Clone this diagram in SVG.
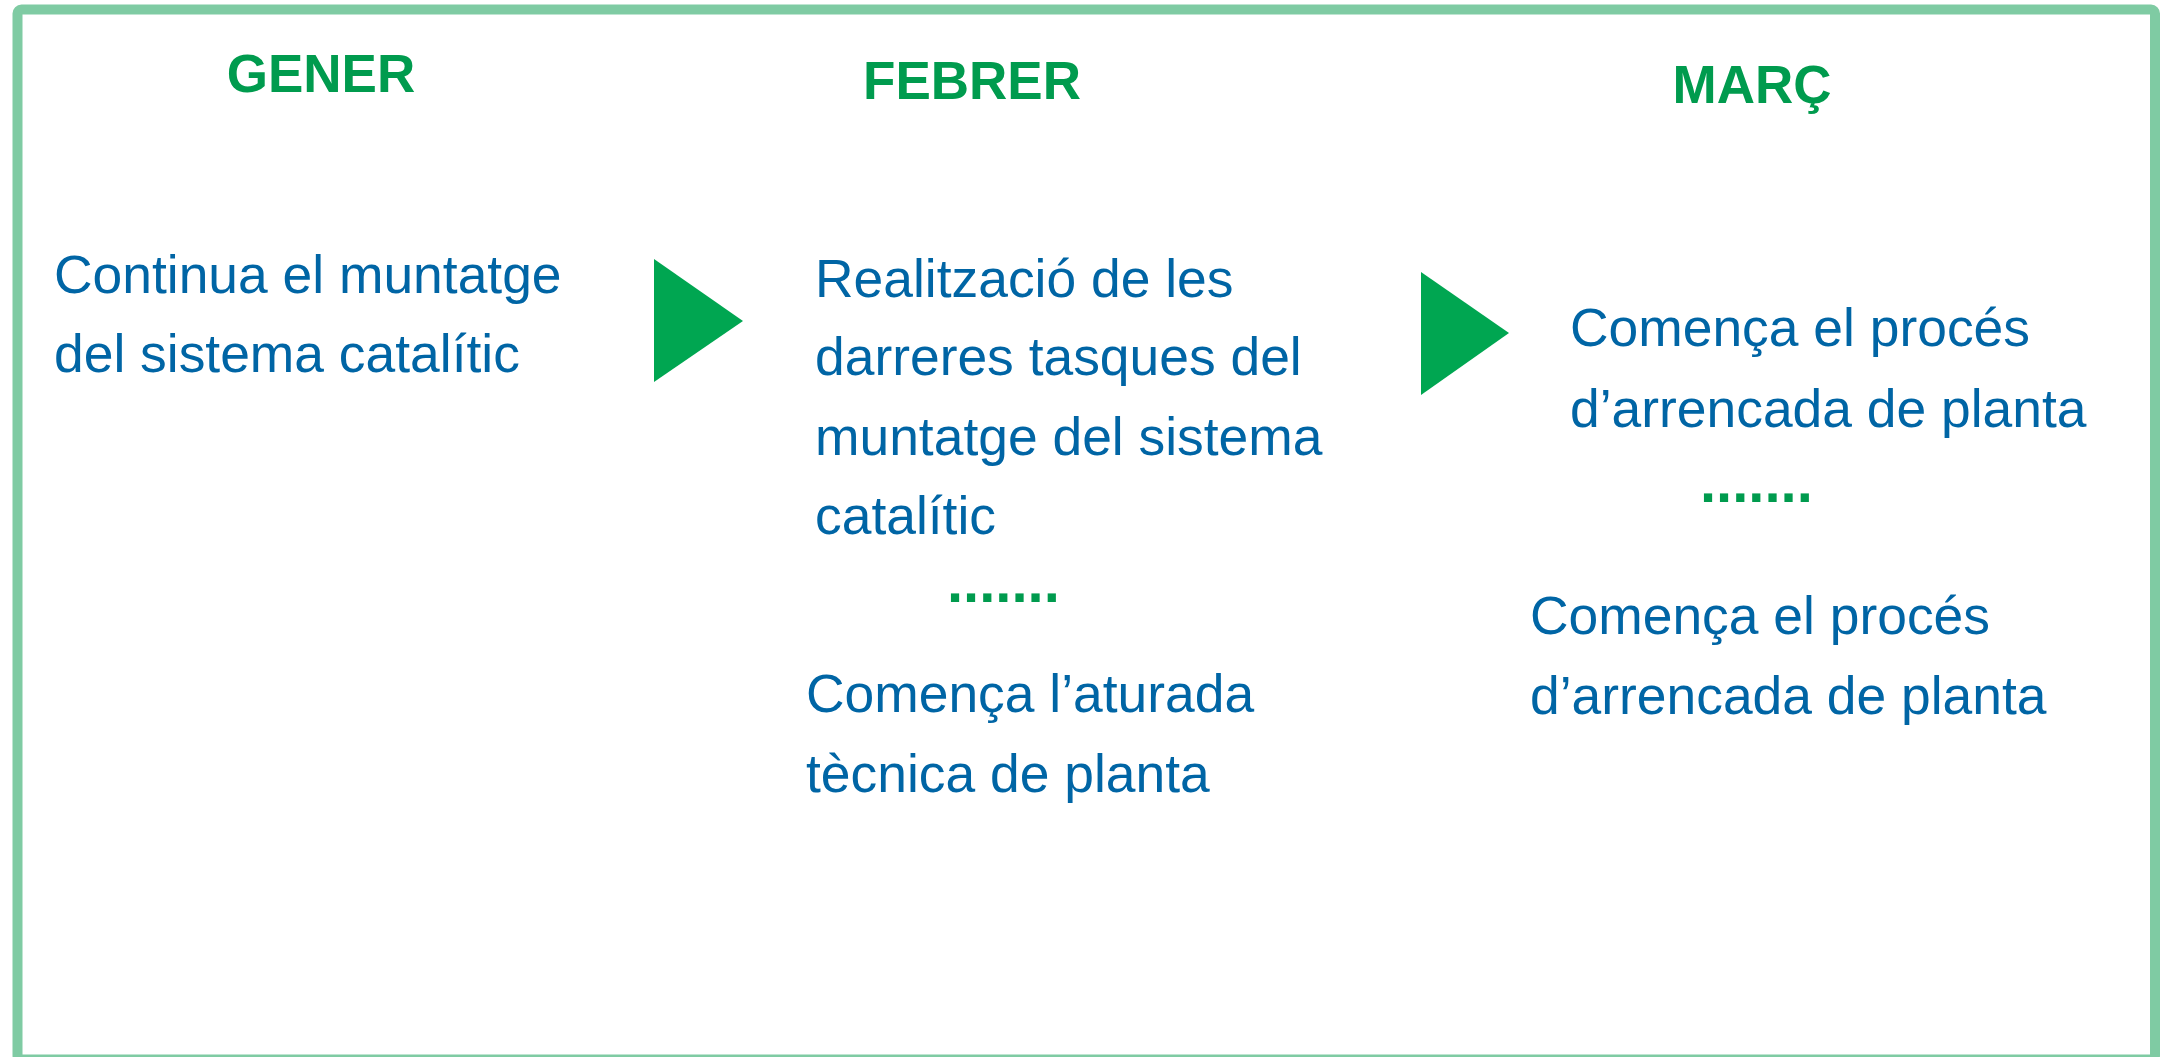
<svg xmlns="http://www.w3.org/2000/svg" width="2169" height="1057" viewBox="0 0 2169 1057">
<style>
.title{font-family:"Liberation Sans",Arial,sans-serif;font-weight:bold;font-size:53px;fill:#009B4E;text-anchor:middle}
.body{font-family:"Liberation Sans",Arial,sans-serif;font-size:53.4px;fill:#0065A5}
.dots{font-family:"Liberation Sans",Arial,sans-serif;font-weight:bold;font-size:58px;fill:#009B4E}
.tri{fill:#00A651}
</style>
<rect x="0" y="0" width="2169" height="1057" fill="#FFFFFF"/>
<rect id="frame" x="17.5" y="9.5" width="2137.5" height="1050" rx="4" fill="none" stroke="#7FCBA3" stroke-width="10"/>
<g id="gener">
<text class="title" x="321" y="92">GENER</text>
<text class="body" x="54" y="293">Continua el muntatge</text>
<text class="body" x="54" y="372">del sistema catalític</text>
</g>
<g id="febrer">
<text class="title" x="972" y="99">FEBRER</text>
<text class="body" x="815" y="297">Realització de les</text>
<text class="body" x="815" y="375">darreres tasques del</text>
<text class="body" x="815" y="455">muntatge del sistema</text>
<text class="body" x="815" y="534">catalític</text>
<text class="dots" x="947" y="602">.......</text>
<text class="body" x="806" y="712">Comença l’aturada</text>
<text class="body" x="806" y="792">tècnica de planta</text>
</g>
<g id="marc">
<text class="title" x="1752" y="103">MARÇ</text>
<text class="body" x="1570" y="346">Comença el procés</text>
<text class="body" x="1570" y="427">d’arrencada de planta</text>
<text class="dots" x="1700" y="502">.......</text>
<text class="body" x="1530" y="634">Comença el procés</text>
<text class="body" x="1530" y="714">d’arrencada de planta</text>
</g>
<g id="connectors">
<polygon class="tri" points="654,259 743,321 654,382"/>
<polygon class="tri" points="1421,272 1509,333 1421,395"/>
</g>
</svg>
